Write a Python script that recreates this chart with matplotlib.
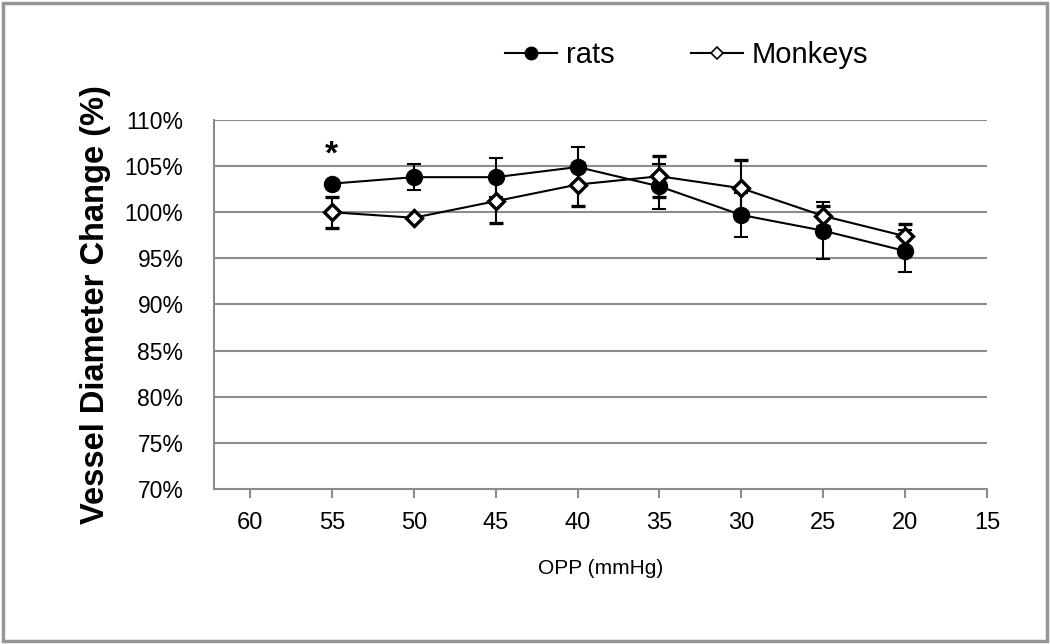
import matplotlib.pyplot as plt
from matplotlib.lines import Line2D
from matplotlib.patches import Rectangle

plt.rcParams["font.family"] = ["Liberation Sans", "DejaVu Sans"]

# data (percent of baseline)
opp = [55, 50, 45, 40, 35, 30, 25, 20]
rats = [103.1, 103.8, 103.8, 104.9, 102.8, 99.7, 98.0, 95.8]
rats_err = [0.0, 1.4, 2.1, 2.2, 2.4, 2.4, 3.1, 2.3]
monkeys = [100.0, 99.4, 101.2, 103.0, 103.9, 102.6, 99.6, 97.4]
monkeys_err = [1.7, 0.0, 2.4, 2.3, 2.2, 3.1, 1.1, 1.3]

x_ticks = [60, 55, 50, 45, 40, 35, 30, 25, 20, 15]
y_ticks = [70, 75, 80, 85, 90, 95, 100, 105, 110]

GRID = "#8c8c8c"

fig = plt.figure(figsize=(10.5, 6.44), dpi=100)
ax = fig.add_axes([0.2038, 0.2407, 0.7362, 0.573])

for y in y_ticks[1:]:
    ax.axhline(y, color=GRID, lw=1.5, zorder=0)

ax.errorbar(opp, rats, yerr=rats_err, color="black", lw=1.5, marker="o",
            markersize=11.5, markerfacecolor="black", markeredgecolor="black",
            ecolor="black", elinewidth=1.5, capsize=4.7, capthick=1.5, zorder=3)
ax.errorbar(opp, monkeys, yerr=monkeys_err, color="black", lw=1.5, marker="D",
            markersize=8.5, markerfacecolor="white", markeredgecolor="black",
            markeredgewidth=2.4, ecolor="black", elinewidth=1.5, capsize=4.7,
            capthick=1.5, zorder=4)

ax.text(55, 106.2, "*", fontsize=24, fontweight="bold", ha="center", va="center")

ax.set_xlim(62.2, 15)
ax.set_ylim(70, 110)
ax.set_xticks(x_ticks)
ax.set_xticklabels([str(v) for v in x_ticks], fontsize=17)
ax.set_yticks(y_ticks)
ax.set_yticklabels([f"{v}%" for v in y_ticks], fontsize=16.5)
ax.tick_params(axis="x", direction="out", length=6.5, width=1.5, color=GRID, pad=10)
ax.tick_params(axis="y", length=0, pad=22)

for side in ["top", "right"]:
    ax.spines[side].set_visible(False)
for side in ["left", "bottom"]:
    ax.spines[side].set_color(GRID)
    ax.spines[side].set_linewidth(1.5)

ax.set_xlabel("OPP (mmHg)", fontsize=15, labelpad=18)
ax.set_ylabel("Vessel Diameter Change (%)", fontsize=23.5, fontweight="bold",
              labelpad=10)

handles = [
    Line2D([], [], color="black", lw=1.5, marker="o", markersize=9,
           markerfacecolor="black"),
    Line2D([], [], color="black", lw=1.5, marker="D", markersize=6,
           markerfacecolor="white", markeredgewidth=1.2),
]
fig.legend(handles, ["rats", "Monkeys"], loc="center", bbox_to_anchor=(0.654, 0.915),
           ncol=2, frameon=False, fontsize=21, handlelength=1.8,
           handletextpad=0.3, columnspacing=2.6)

# chart area border
fig.patches.append(Rectangle((0.003, 0.005), 0.994, 0.99, transform=fig.transFigure,
                             fill=False, edgecolor="#969696", lw=2.5))

fig.savefig("out.png", dpi=100)
